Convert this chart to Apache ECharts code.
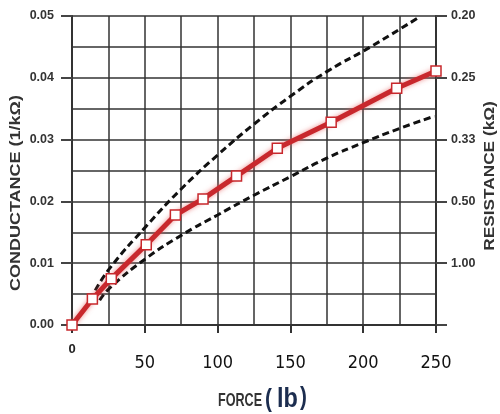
<!DOCTYPE html>
<html><head><meta charset="utf-8">
<script src="https://cdn.jsdelivr.net/npm/echarts@6/dist/echarts.min.js"></script>
<style>html,body{margin:0;padding:0;background:#fff}#c{width:500px;height:414px}</style>
</head><body><div id="c"></div>
<script>
// Data
var forceMeasured = [0, 14, 27, 51, 71, 90, 113, 141, 178, 223, 250];
var conductanceMeasured = [0.0000, 0.0042, 0.0075, 0.0130, 0.0178, 0.0204, 0.0241, 0.0286, 0.0328, 0.0383, 0.0411];
var forceUpper = [16, 26, 51, 75, 100, 125, 150, 175, 205, 239];
var conductanceUpper = [0.0056, 0.0092, 0.0160, 0.0220, 0.0275, 0.0325, 0.0370, 0.0410, 0.0450, 0.0499];
var forceLower = [19, 26, 51, 75, 100, 125, 150, 175, 200, 225, 249];
var conductanceLower = [0.0040, 0.0060, 0.0108, 0.0145, 0.0178, 0.0210, 0.0240, 0.0270, 0.0295, 0.0318, 0.0338];
var leftTicks = [0.00, 0.01, 0.02, 0.03, 0.04, 0.05];
var rightTickLabels = ['', '1.00', '0.50', '0.33', '0.25', '0.20'];
var xTicks = [0, 50, 100, 150, 200, 250];

function pairs(xs, ys){ return xs.map(function(x,i){return [x, ys[i]];}); }

var chart = echarts.init(document.getElementById('c'), null, {renderer:'canvas'});
var labelFont = '"DejaVu Sans Condensed", "Liberation Sans Narrow", sans-serif';
var boldFont = 'Arial, "Liberation Sans", sans-serif';
chart.setOption({
  animation: false,
  backgroundColor: '#fff',
  grid: {left: 72, right: 64, top: 16, bottom: 89, containLabel: false},
  xAxis: {
    type: 'value', min: 0, max: 250, interval: 50,
    axisLine: {show: true, lineStyle: {color: '#333', width: 2}},
    axisTick: {show: true, length: 8, lineStyle: {color: '#333', width: 2}},
    splitLine: {show: true, lineStyle: {color: '#333', width: 1.5}},
    minorTick: {show: false, splitNumber: 2},
    minorSplitLine: {show: true, lineStyle: {color: '#333', width: 1.5}},
    axisLabel: {
      margin: 10,
      formatter: function(v){ return v === 0 ? '{z|0}' : '{n|' + v + '}'; },
      rich: {
        z: {fontFamily: boldFont, fontWeight: 'bold', fontSize: 13, color: '#222', padding: [8,0,0,0]},
        n: {fontFamily: labelFont, fontSize: 18, color: '#111', padding: [19,0,0,0]}
      }
    }
  },
  yAxis: [{
    type: 'value', min: 0, max: 0.05, interval: 0.01, position: 'left',
    axisLine: {show: true, lineStyle: {color: '#333', width: 2}},
    axisTick: {show: true, length: 11, lineStyle: {color: '#444', width: 2}},
    splitLine: {show: true, lineStyle: {color: '#666', width: 2}},
    minorTick: {show: false, splitNumber: 2},
    minorSplitLine: {show: true, lineStyle: {color: '#666', width: 2}},
    axisLabel: {
      margin: 18, color: '#333', fontWeight: 'bold', fontSize: 12.5,
      fontFamily: boldFont,
      formatter: function(v){ return v.toFixed(2); }
    }
  }, {
    type: 'value', min: 0, max: 0.05, interval: 0.01, position: 'right',
    axisLine: {show: true, lineStyle: {color: '#333', width: 2}},
    axisTick: {show: true, length: 11, lineStyle: {color: '#444', width: 2}},
    splitLine: {show: false},
    axisLabel: {
      margin: 15, color: '#333', fontWeight: 'bold', fontSize: 12.5,
      fontFamily: boldFont,
      formatter: function(v){ var i = Math.round(v / 0.01); return rightTickLabels[i]; }
    }
  }],
  graphic: [
    {type: 'text', rotation: Math.PI/2, x: 16, y: 193, scaleX: 1.2,
      style: {text: 'CONDUCTANCE (1/kΩ)', fill: '#333', font: 'bold 15px ' + boldFont, textAlign: 'center', textVerticalAlign: 'middle'}},
    {type: 'text', rotation: Math.PI/2, x: 490, y: 176, scaleX: 1.15,
      style: {text: 'RESISTANCE (kΩ)', fill: '#333', font: 'bold 15px ' + boldFont, textAlign: 'center', textVerticalAlign: 'middle'}},
    {type: 'text', x: 218, y: 401, scaleX: 0.7,
      style: {text: 'FORCE', fill: '#333', font: 'bold 18px ' + boldFont, textAlign: 'left', textVerticalAlign: 'middle'}},
    {type: 'text', x: 265, y: 400, scaleX: 0.8,
      style: {text: '(', fill: '#1c2d4f', font: 'bold 26px ' + boldFont, textAlign: 'left', textVerticalAlign: 'middle'}},
    {type: 'text', x: 277, y: 399, scaleX: 0.84,
      style: {text: 'lb', fill: '#1c2d4f', font: 'bold 28px ' + boldFont, textAlign: 'left', textVerticalAlign: 'middle'}},
    {type: 'text', x: 300, y: 398, scaleX: 0.8,
      style: {text: ')', fill: '#1c2d4f', font: 'bold 26px ' + boldFont, textAlign: 'left', textVerticalAlign: 'middle'}}
  ],
  series: [
    {type: 'line', data: pairs(forceUpper, conductanceUpper), smooth: true, showSymbol: false, symbol: 'none',
      lineStyle: {color: '#111', width: 3, type: [7, 4]}, z: 3},
    {type: 'line', data: pairs(forceLower, conductanceLower), smooth: true, showSymbol: false, symbol: 'none',
      lineStyle: {color: '#111', width: 3, type: [7, 4]}, z: 3},
    {type: 'line', data: pairs(forceMeasured, conductanceMeasured), smooth: false,
      symbol: 'rect', symbolSize: 10,
      itemStyle: {color: '#fff', borderColor: '#c8282d', borderWidth: 1.5},
      lineStyle: {color: '#c8282d', width: 5, shadowColor: 'rgba(230,90,90,0.7)', shadowBlur: 5}, z: 4}
  ]
});
</script></body></html>
